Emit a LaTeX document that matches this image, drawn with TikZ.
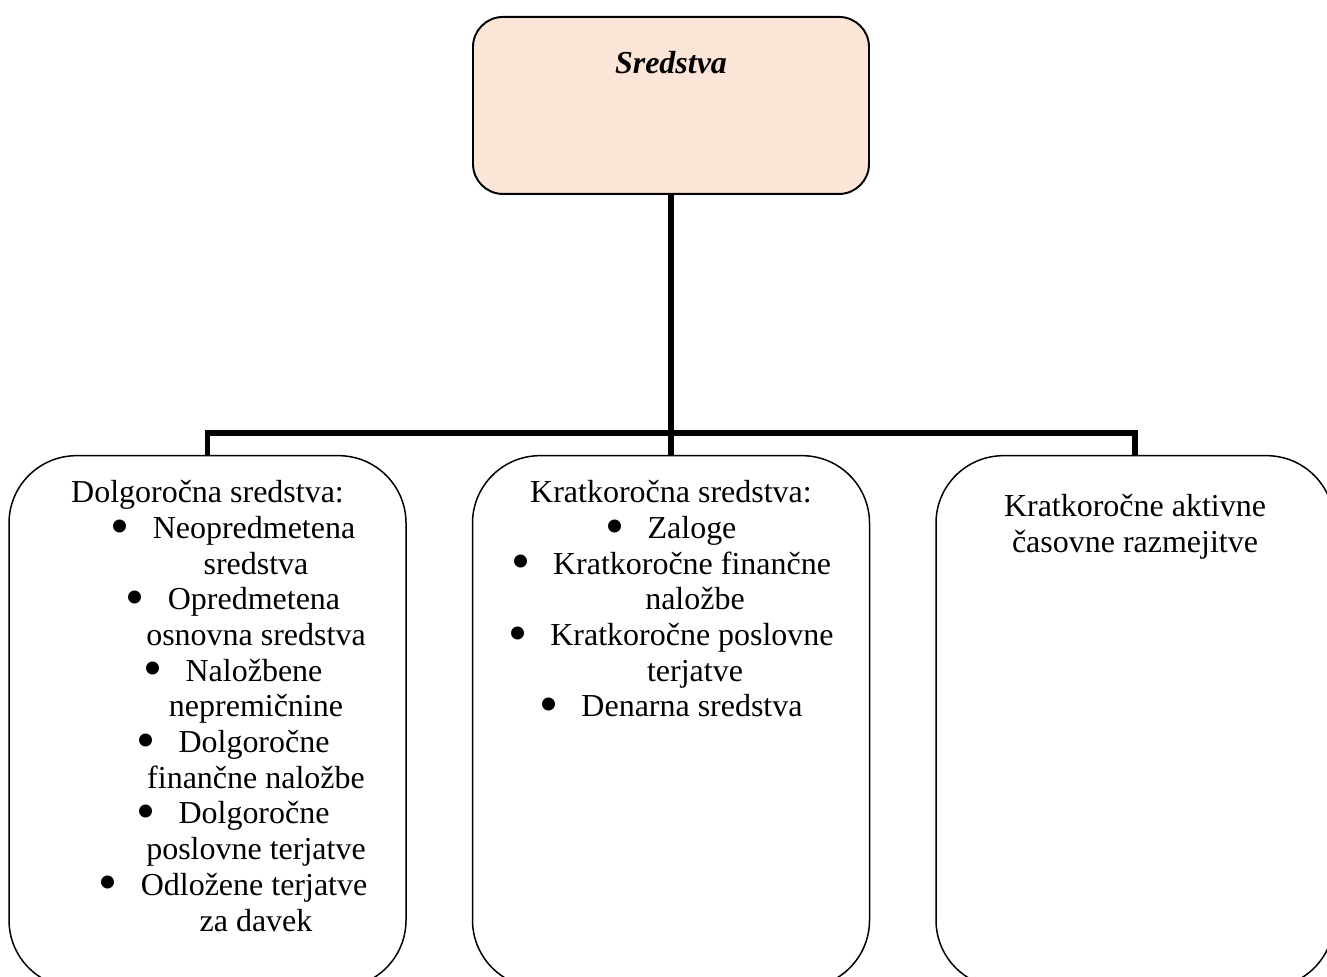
\documentclass[tikz,border=0pt]{standalone}
\usepackage{fontspec}
\setmainfont{Liberation Serif}
\usepackage{tikz}
\usetikzlibrary{positioning}
\definecolor{headFill}{HTML}{FBE5D6}

\newcommand{\boxtext}[4]{\parbox[c][#1][t]{#2}{\centering\vspace*{#3}#4}}
\newcommand{\bul}{\smash{\raisebox{-3.1pt}{\scalebox{1.7}{\textbullet}}}\hspace{0.46cm}}

\begin{document}
\begin{tikzpicture}[
  font=\fontsize{18.2}{20.3}\selectfont,
  headbox/.style={draw, line width=1.1pt, fill=headFill, rounded corners=0.6cm, inner sep=0pt},
  groupbox/.style={draw, line width=0.85pt, rounded corners=1.35cm, inner sep=0pt},
  conn/.style={line width=3.2pt}
]

\useasboundingbox (0,0) rectangle (26.54,19.52);
\clip (0,0) rectangle (26.54,19.52);

\node[headbox, anchor=north] (sredstva) at (13.42,19.2)
{\boxtext{3.54cm}{7.92cm}{0.68cm}{\textbf{\textit{Sredstva}}}};

\node[groupbox, below=5.2cm of sredstva] (kratkorocna)
{\boxtext{10.64cm}{7.94cm}{0.5cm}{Kratkoročna sredstva:\\
\bul Zaloge\\
\bul Kratkoročne finančne\\
\hspace*{0.96cm}naložbe\\
\bul Kratkoročne poslovne\\
\hspace*{0.96cm}terjatve\\
\bul Denarna sredstva}};

\node[groupbox, left=1.3cm of kratkorocna] (dolgorocna)
{\boxtext{10.64cm}{7.94cm}{0.5cm}{Dolgoročna sredstva:\\
\hspace*{1.02cm}\bul Neopredmetena\\
\hspace*{1.94cm}sredstva\\
\hspace*{1.02cm}\bul Opredmetena\\
\hspace*{1.94cm}osnovna sredstva\\
\hspace*{1.02cm}\bul Naložbene\\
\hspace*{1.94cm}nepremičnine\\
\hspace*{1.02cm}\bul Dolgoročne\\
\hspace*{1.94cm}finančne naložbe\\
\hspace*{1.02cm}\bul Dolgoročne\\
\hspace*{1.94cm}poslovne terjatve\\
\hspace*{1.02cm}\bul Odložene terjatve\\
\hspace*{1.94cm}za davek}};

\node[groupbox, right=1.3cm of kratkorocna] (razmejitve)
{\boxtext{10.64cm}{7.96cm}{0.78cm}{Kratkoročne aktivne\\
časovne razmejitve}};

% connectors
\coordinate[above=0.44cm of kratkorocna.north] (split);
\draw[conn] (sredstva.south) -- (split);
\draw[conn] (split) -| (dolgorocna.north);
\draw[conn] (split) -- (kratkorocna.north);
\draw[conn] (split) -| (razmejitve.north);

\end{tikzpicture}
\end{document}
